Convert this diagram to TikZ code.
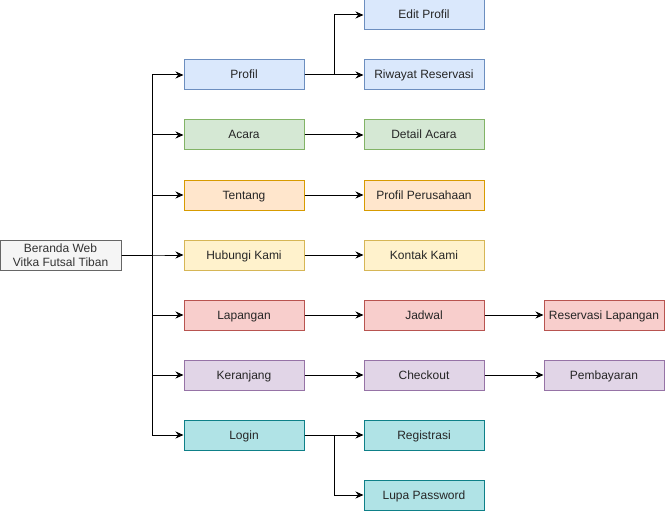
\documentclass[tikz,border=0pt]{standalone}
\usepackage{fontspec}
\setmainfont{Liberation Sans}
\usetikzlibrary{arrows.meta}

\definecolor{blueF}{HTML}{DAE8FC}\definecolor{blueD}{HTML}{6C8EBF}
\definecolor{greenF}{HTML}{D5E8D4}\definecolor{greenD}{HTML}{82B366}
\definecolor{orangeF}{HTML}{FFE6CC}\definecolor{orangeD}{HTML}{D79B00}
\definecolor{yellowF}{HTML}{FFF2CC}\definecolor{yellowD}{HTML}{D6B656}
\definecolor{redF}{HTML}{F8CECC}\definecolor{redD}{HTML}{B85450}
\definecolor{purpleF}{HTML}{E1D5E7}\definecolor{purpleD}{HTML}{9673A6}
\definecolor{tealF}{HTML}{B0E3E6}\definecolor{tealD}{HTML}{0E8088}
\definecolor{grayF}{HTML}{F5F5F5}\definecolor{grayD}{HTML}{666666}
\definecolor{grayT}{HTML}{333333}

\begin{document}
\begin{tikzpicture}[x=1pt,y=-1pt,
  plain/.style={draw,line width=1pt,minimum width=120pt,minimum height=30pt,
    inner sep=0pt,align=center,text=black!85,font=\fontsize{12}{14}\selectfont},
  box/.style={plain,text height=10pt,text depth=2pt},
  bluebox/.style={box,fill=blueF,draw=blueD},
  greenbox/.style={box,fill=greenF,draw=greenD},
  orangebox/.style={box,fill=orangeF,draw=orangeD},
  yellowbox/.style={box,fill=yellowF,draw=yellowD},
  redbox/.style={box,fill=redF,draw=redD},
  purplebox/.style={box,fill=purpleF,draw=purpleD},
  tealbox/.style={box,fill=tealF,draw=tealD},
  rootbox/.style={plain,fill=grayF,draw=grayD,text=grayT,minimum width=121pt},
  arr/.style={line width=1pt,-{Stealth[length=8pt,width=7pt]}}]
\useasboundingbox (0,0) rectangle (665,511);

\node[rootbox] (beranda) at (60.5,255) {Beranda Web\\Vitka Futsal Tiban};

\node[bluebox]   (profil)    at (244,75)  {Profil};
\node[greenbox]  (acara)     at (244,135) {Acara};
\node[orangebox] (tentang)   at (244,195) {Tentang};
\node[yellowbox] (hubungi)   at (244,255) {Hubungi Kami};
\node[redbox]    (lapangan)  at (244,315) {Lapangan};
\node[purplebox] (keranjang) at (244,375) {Keranjang};
\node[tealbox]   (login)     at (244,435) {Login};

\node[bluebox]   (editprofil) at (424,15)  {Edit Profil};
\node[bluebox]   (riwayat)    at (424,75)  {Riwayat Reservasi};
\node[greenbox]  (detail)     at (424,135) {Detail Acara};
\node[orangebox] (perusahaan) at (424,195) {Profil Perusahaan};
\node[yellowbox] (kontak)     at (424,255) {Kontak Kami};
\node[redbox]    (jadwal)     at (424,315) {Jadwal};
\node[purplebox] (checkout)   at (424,375) {Checkout};
\node[tealbox]   (registrasi) at (424,435) {Registrasi};
\node[tealbox]   (lupa)       at (424,495) {Lupa Password};

\node[redbox]    (reservasi)  at (604,315) {Reservasi Lapangan};
\node[purplebox] (pembayaran) at (604,375) {Pembayaran};

\coordinate (split) at (152,255);
\foreach \n in {profil,acara,tentang,hubungi,lapangan,keranjang,login}{
  \draw[arr] (beranda.east) -- (split) |- (\n.west);
};

\coordinate (forkprofil) at (334,75);
\coordinate (forklogin) at (334,435);
\draw[arr] (profil.east) -- (forkprofil) |- (editprofil.west);
\draw[arr] (profil.east) -- (riwayat.west);
\draw[arr] (login.east) -- (forklogin) |- (lupa.west);
\draw[arr] (login.east) -- (registrasi.west);

\draw[arr] (acara) -- (detail);
\draw[arr] (tentang) -- (perusahaan);
\draw[arr] (hubungi) -- (kontak);
\draw[arr] (lapangan) -- (jadwal);
\draw[arr] (keranjang) -- (checkout);
\draw[arr] (jadwal) -- (reservasi);
\draw[arr] (checkout) -- (pembayaran);

\end{tikzpicture}
\end{document}
